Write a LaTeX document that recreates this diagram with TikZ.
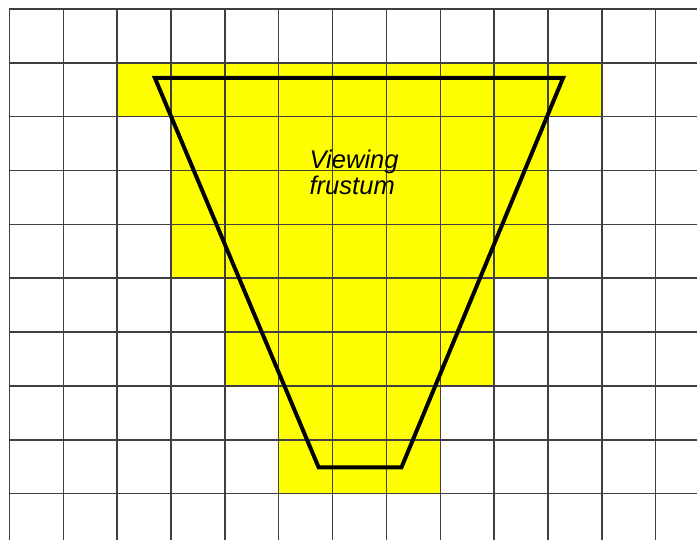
\documentclass[tikz,border=0pt]{standalone}
\usepackage{fontspec}
\setsansfont{Liberation Sans}
\definecolor{cellyellow}{RGB}{255,255,0}
\tikzset{
  gridline/.style={draw=black!75, line width=0.8pt},
  cell/.style={fill=cellyellow},
  frustum/.style={draw=black, line width=2.1pt, line join=miter},
}
\begin{document}
\begin{tikzpicture}
            \useasboundingbox (-0.176,0.167) rectangle (12.767,-9.86);
            % covered cells
            \fill [cell] (2,-1) rectangle (11,-2);
            \fill [cell] (3,-2) rectangle (10,-5);
            \fill [cell] (4,-5) rectangle (9,-7);
            \fill [cell] (5,-7) rectangle (8,-9);
            \draw [gridline] (0,-9.9) grid (12.8,0);
            % frustum corners
            \coordinate (tl) at (2.70,-1.28);
            \coordinate (tr) at (10.28,-1.28);
            \coordinate (br) at (7.28,-8.51);
            \coordinate (bl) at (5.74,-8.51);
            \draw [frustum] (tl) -- (tr) -- (br) -- (bl) -- cycle;
            \node (lbl) at (6.40,-3.04) [align=left, inner sep=0pt, font=\sffamily\itshape\fontsize{13.5}{11.8}\selectfont] {Viewing\\frustum};
        \end{tikzpicture}
\end{document}
